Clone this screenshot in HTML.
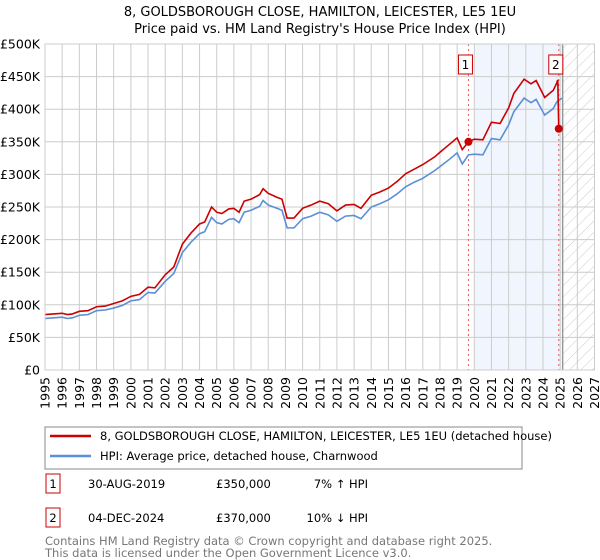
<!DOCTYPE html>
<html><head><meta charset="utf-8"><style>
body{margin:0;background:#fff;font-family:"Liberation Sans","DejaVu Sans",sans-serif;}
svg{display:block}
</style></head><body>
<svg width="600" height="560" xmlns="http://www.w3.org/2000/svg" font-family="DejaVu Sans, Liberation Sans, sans-serif">
<defs>
<pattern id="hatch" width="8" height="8" patternUnits="userSpaceOnUse" patternTransform="rotate(45)"><line x1="0" y1="0" x2="0" y2="8" stroke="#ccc" stroke-width="1"/></pattern>
</defs>
<text x="320" y="16" text-anchor="middle" font-size="13">8, GOLDSBOROUGH CLOSE, HAMILTON, LEICESTER, LE5 1EU</text>
<text x="320" y="33" text-anchor="middle" font-size="13">Price paid vs. HM Land Registry's House Price Index (HPI)</text>
<g id="plot"></g>
<rect x="45" y="427" width="477" height="42" fill="#fff" stroke="#888"/>
<line x1="50" y1="436" x2="91" y2="436" stroke="#cc0000" stroke-width="2.5"/>
<text x="100" y="440" font-size="11.5">8, GOLDSBOROUGH CLOSE, HAMILTON, LEICESTER, LE5 1EU (detached house)</text>
<line x1="50" y1="456" x2="91" y2="456" stroke="#5b8fd6" stroke-width="2.5"/>
<text x="100" y="460" font-size="11.5">HPI: Average price, detached house, Charnwood</text>
<g font-size="11.5">
<rect x="46" y="474" width="14" height="19" fill="#fff" stroke="#c00"/>
<text x="53" y="488" text-anchor="middle">1</text>
<text x="88" y="488">30-AUG-2019</text>
<text x="216" y="488">£350,000</text>
<text x="368" y="488" text-anchor="end">7% ↑ HPI</text>
<rect x="46" y="508" width="14" height="19" fill="#fff" stroke="#c00"/>
<text x="53" y="522" text-anchor="middle">2</text>
<text x="88" y="522">04-DEC-2024</text>
<text x="216" y="522">£370,000</text>
<text x="368" y="522" text-anchor="end">10% ↓ HPI</text>
</g>
<text x="45" y="545" font-size="11.5" fill="#777">Contains HM Land Registry data © Crown copyright and database right 2025.</text>
<text x="45" y="557" font-size="11.5" fill="#777">This data is licensed under the Open Government Licence v3.0.</text>
</svg>
<script>
const hpiYears=[1995.0,1995.5,1996.0,1996.3,1996.6,1997.0,1997.5,1998.0,1998.5,1999.0,1999.5,2000.0,2000.5,2001.0,2001.4,2002.0,2002.5,2003.0,2003.5,2004.0,2004.3,2004.7,2005.0,2005.3,2005.7,2006.0,2006.3,2006.6,2007.0,2007.5,2007.7,2008.0,2008.5,2008.8,2009.1,2009.5,2010.0,2010.5,2011.0,2011.5,2012.0,2012.5,2013.0,2013.4,2014.0,2014.5,2015.0,2015.5,2016.0,2016.5,2017.0,2017.7,2018.0,2018.5,2019.0,2019.3,2019.66,2020.0,2020.5,2021.0,2021.5,2022.0,2022.3,2022.9,2023.3,2023.6,2024.1,2024.6,2024.8,2025.1];
const hpiValues=[79,80,81,79,80,84,85,91,92,95,99,106,108,119,118,136,148,180,196,209,212,234,226,224,231,232,226,242,245,251,260,253,248,245,218,218,232,236,242,238,228,236,237,232,250,255,261,270,281,288,294,306,312,322,333,316,330,331,330,355,353,376,396,417,410,415,391,401,411,417];
const priceYears=[1995.0,1995.5,1996.0,1996.3,1996.6,1997.0,1997.5,1998.0,1998.5,1999.0,1999.5,2000.0,2000.5,2001.0,2001.4,2002.0,2002.5,2003.0,2003.5,2004.0,2004.3,2004.7,2005.0,2005.3,2005.7,2006.0,2006.3,2006.6,2007.0,2007.5,2007.7,2008.0,2008.5,2008.8,2009.1,2009.5,2010.0,2010.5,2011.0,2011.5,2012.0,2012.5,2013.0,2013.4,2014.0,2014.5,2015.0,2015.5,2016.0,2016.5,2017.0,2017.7,2018.0,2018.5,2019.0,2019.3,2019.66,2020.0,2020.5,2021.0,2021.5,2022.0,2022.3,2022.9,2023.3,2023.6,2024.1,2024.6,2024.8,2024.86,2024.92];
const priceValues=[85,86,87,85,86,90,91,97,98,102,106,113,116,127,126,146,158,193,210,224,227,250,242,240,247,248,242,259,262,269,278,271,265,262,233,233,248,253,259,255,244,253,254,248,268,273,279,289,301,308,315,327,334,345,356,338,350,354,353,380,378,402,424,446,439,444,418,429,440,445,370];
const saleYears=[2019.66,2024.92];
const saleValues=[350,370];
const saleLabels=["1","2"];
const yTicks=[0,50,100,150,200,250,300,350,400,450,500];
const yTickLabels=["£0","£50K","£100K","£150K","£200K","£250K","£300K","£350K","£400K","£450K","£500K"];
const xTicks=[1995,1996,1997,1998,1999,2000,2001,2002,2003,2004,2005,2006,2007,2008,2009,2010,2011,2012,2013,2014,2015,2016,2017,2018,2019,2020,2021,2022,2023,2024,2025,2026,2027];

const X0=45,X1=594.5,Y0=370,Y1=44;
const xs=y=>X0+(y-1995)/(2027-1995)*(X1-X0);
const ys=v=>Y0-v/500*(Y0-Y1);
const NS="http://www.w3.org/2000/svg";
const g=document.getElementById('plot');
function mk(t,a){const e=document.createElementNS(NS,t);for(const k in a)e.setAttribute(k,a[k]);g.appendChild(e);return e;}

let e=mk('rect',{x:xs(2019.99),y:Y1,width:xs(2025.15)-xs(2019.99),height:Y0-Y1,fill:'#eef3fc',opacity:0.8});


e=mk('rect',{x:xs(2025.15),y:Y1,width:X1-xs(2025.15),height:Y0-Y1,fill:'url(#hatch)'});


xTicks.forEach((t,i)=>{
 e=mk('line',{x1:xs(t),x2:xs(t),y1:Y1,y2:Y0,stroke:'#ccc','stroke-width':1});
 
 
 e=mk('text',{x:xs(t)+4.5,y:377,'font-size':12.5,'text-anchor':'end',transform:`rotate(-90 ${xs(t)+4.5} 377)`});
 e.textContent=t;
 
 
});
yTicks.forEach((t,i)=>{
 e=mk('line',{x1:X0,x2:X1,y1:ys(t),y2:ys(t),stroke:'#ccc','stroke-width':1});
 
 
 e=mk('text',{x:40,y:ys(t)+4.5,'font-size':12.5,'text-anchor':'end'});
 e.textContent=yTickLabels[i];
 
 
});
e=mk('line',{x1:xs(2025.15),x2:xs(2025.15),y1:Y1,y2:Y0,stroke:'#888','stroke-width':1.2});


saleYears.forEach((s,i)=>{
 e=mk('line',{x1:xs(s),x2:xs(s),y1:Y1,y2:Y0,stroke:'#e06060','stroke-width':1,'stroke-dasharray':'2,3'});
 
 
});
e=mk('polyline',{points:hpiYears.map((y,i)=>xs(y)+','+ys(hpiValues[i])).join(' '),fill:'none',stroke:'#5b8fd6','stroke-width':1.6});


e=mk('polyline',{points:priceYears.map((y,i)=>xs(y)+','+ys(priceValues[i])).join(' '),fill:'none',stroke:'#cc0000','stroke-width':1.6});


saleYears.forEach((s,i)=>{
 e=mk('circle',{cx:xs(s),cy:ys(saleValues[i]),r:4,fill:'#cc0000'});
 
 
 e=mk('rect',{x:xs(s)-10,y:55,width:14,height:19,fill:'#fff',stroke:'#c00'});
 
 
 e=mk('text',{x:xs(s)-3,y:69,'font-size':12,'text-anchor':'middle'});
 e.textContent=saleLabels[i];
 
 
});
e=mk('rect',{x:X0,y:Y1,width:X1-X0,height:Y0-Y1,fill:'none',stroke:'#ccc'});


</script>
</body></html>
